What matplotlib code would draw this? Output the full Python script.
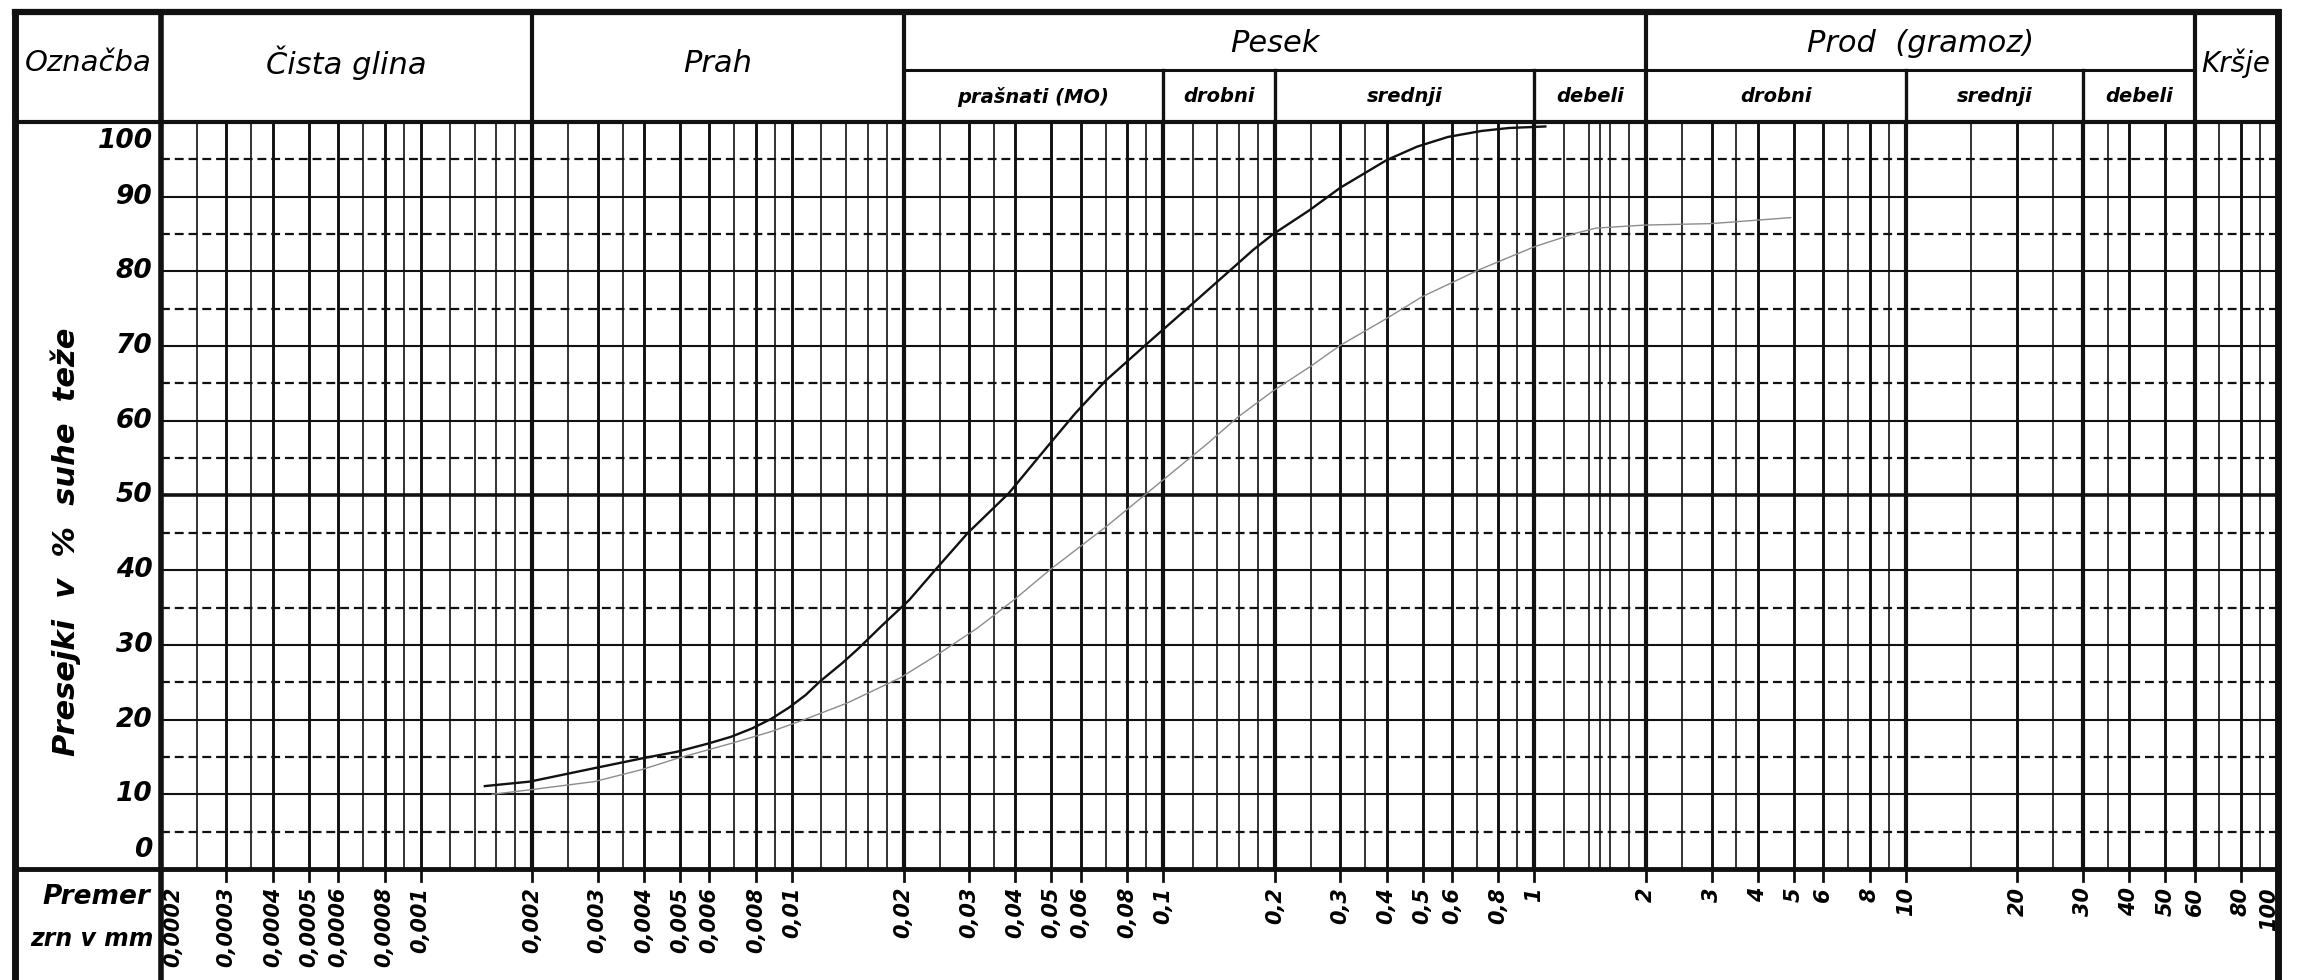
import matplotlib
matplotlib.use("Agg")
import matplotlib.pyplot as plt
import matplotlib.transforms as mtransforms
from matplotlib.lines import Line2D
from matplotlib.ticker import NullLocator

# grain size in mm vs. passing in % of dry weight
dark_size = [0.00149, 0.00197, 0.00294, 0.00394, 0.00491, 0.00596, 0.00686, 0.0078, 0.0088,
             0.00982, 0.0109, 0.0119, 0.0137, 0.0151, 0.0175, 0.0207, 0.0243, 0.0298, 0.0384,
             0.0487, 0.058, 0.0701, 0.0904, 0.1164, 0.152, 0.175, 0.198, 0.248, 0.30, 0.40,
             0.483, 0.585, 0.72, 0.855, 1.07]
dark_pass = [11.1, 11.7, 13.5, 14.8, 15.7, 16.8, 17.7, 18.8, 20.1,
             21.6, 23.3, 25.1, 27.6, 29.5, 32.6, 36.0, 40.0, 45.0, 50.3,
             56.5, 61.0, 65.4, 70.3, 75.1, 80.2, 82.9, 85.0, 88.2, 91.2, 94.9,
             96.7, 98.0, 98.8, 99.2, 99.4]

light_size = [0.00156, 0.00197, 0.00294, 0.00394, 0.00491, 0.00685, 0.0088, 0.01067, 0.01407,
              0.0196, 0.0245, 0.0315, 0.0396, 0.0494, 0.0701, 0.0962, 0.132, 0.159, 0.199,
              0.248, 0.30, 0.40, 0.498, 0.708, 1.0, 1.29, 1.466, 1.98, 3.0, 4.9]
light_pass = [10.0, 10.6, 11.7, 13.3, 14.8, 16.8, 18.4, 19.9, 22.2,
              25.6, 28.6, 32.2, 36.0, 40.0, 45.8, 51.4, 57.0, 60.5, 64.1,
              67.2, 70.1, 73.7, 76.6, 80.2, 83.3, 85.1, 85.8, 86.2, 86.4, 87.2]

# labelled sieve sizes along the bottom
size_ticks = [0.0002, 0.0003, 0.0004, 0.0005, 0.0006, 0.0008, 0.001,
              0.002, 0.003, 0.004, 0.005, 0.006, 0.008, 0.01,
              0.02, 0.03, 0.04, 0.05, 0.06, 0.08, 0.1,
              0.2, 0.3, 0.4, 0.5, 0.6, 0.8, 1,
              2, 3, 4, 5, 6, 8, 10,
              20, 30, 40, 50, 60, 80, 100]
size_labels = ["0,0002", "0,0003", "0,0004", "0,0005", "0,0006", "0,0008", "0,001",
               "0,002", "0,003", "0,004", "0,005", "0,006", "0,008", "0,01",
               "0,02", "0,03", "0,04", "0,05", "0,06", "0,08", "0,1",
               "0,2", "0,3", "0,4", "0,5", "0,6", "0,8", "1",
               "2", "3", "4", "5", "6", "8", "10",
               "20", "30", "40", "50", "60", "80", "100"]

pass_ticks = [0, 10, 20, 30, 40, 50, 60, 70, 80, 90, 100]

# soil classes and their size limits (mm)
main_names = ["Čista glina", "Prah", "Pesek", "Prod  (gramoz)", "Kršje"]
main_edges = [0.0002, 0.002, 0.02, 2, 60, 100]
sub_names = ["prašnati (MO)", "drobni", "srednji", "debeli", "drobni", "srednji", "debeli"]
sub_edges = [0.02, 0.1, 0.2, 1, 2, 10, 30, 60]

# thin grid lines of the printed form
fine_steps = [2, 2.5, 3, 3.5, 4, 5, 6, 7, 8, 9, 10, 12, 14, 16, 18]
grid_x = []
for dec in [0.0001, 0.001, 0.01, 0.1]:
    grid_x += [s * dec for s in fine_steps]
grid_x += [1.5, 2, 2.5, 3, 3.5, 4, 5, 6, 7, 8, 9, 10, 15, 20, 25, 30, 35, 40, 50, 60, 70, 80, 90]

W, H = 2298, 980
ink = "#111111"
FONT = "DejaVu Sans"


def fx(px): return px / W
def fy(py): return 1 - py / H


x_left, x_right = 161, 2277
y_top, y_bot = 122, 869
frame_l, frame_r, frame_t, sub_row = 15, 2278, 12, 70

fig = plt.figure(figsize=(W / 100, H / 100), dpi=100)
fig.patch.set_facecolor("white")
ax = fig.add_axes([fx(x_left), fy(y_bot), fx(x_right - x_left), (y_bot - y_top) / H])
ax.set_xscale("log")
ax.xaxis.set_major_locator(NullLocator())
ax.xaxis.set_minor_locator(NullLocator())
ax.yaxis.set_major_locator(NullLocator())
for s in ax.spines.values(): s.set_visible(False)

boundaries = set(main_edges[1:-1] + sub_edges)
for v in grid_x:
    if any(abs(v / b - 1) < 1e-6 for b in boundaries): lw = 3.0
    elif any(abs(v / t - 1) < 1e-6 for t in size_ticks): lw = 2.1
    else: lw = 1.2
    ax.axvline(v, color=ink, lw=lw, zorder=1)

for p in range(5, 100, 10):
    ax.axhline(p, color=ink, lw=1.6, ls=(0, (4, 2.2)), zorder=1)
for p in range(10, 100, 10):
    ax.axhline(p, color=ink, lw=2.6 if p == 50 else 1.5, zorder=1)

ax.plot(light_size, light_pass, color="#8c8c8c", lw=1.0, zorder=3)
ax.plot(dark_size, dark_pass, color=ink, lw=1.7, zorder=4)

ax.set_xlim(0.0002, 100)
ax.set_ylim(0, 100)

tr = mtransforms.blended_transform_factory(ax.transData, fig.transFigure)


def fline(xs, ys, lw, transform=fig.transFigure):
    fig.add_artist(Line2D(xs, ys, color=ink, lw=lw, transform=transform, solid_capstyle="projecting"))


# outer frame and header rows
fline([fx(frame_l), fx(frame_r)], [fy(frame_t)] * 2, 4.5)
fline([fx(frame_l)] * 2, [fy(frame_t), 0], 5)
fline([fx(frame_r)] * 2, [fy(frame_t), 0], 5)
fline([fx(frame_l), fx(frame_r)], [fy(y_top)] * 2, 3)
fline([fx(frame_l), fx(frame_r)], [fy(y_bot)] * 2, 3.5)
fline([0.0002, 0.0002], [fy(frame_t), 0], 4, tr)
fline([sub_edges[0], sub_edges[-1]], [fy(sub_row)] * 2, 2.2, tr)
for e in main_edges[1:-1]:
    fline([e, e], [fy(frame_t), fy(y_top)], 3, tr)
for e in sub_edges[1:-1]:
    if e not in main_edges: fline([e, e], [fy(sub_row), fy(y_top)], 2.4, tr)

# header texts
fig.text(fx(88), fy(63), "Označba", ha="center", va="center", fontsize=21,
         family=FONT, style="oblique")
for name, lo, hi in zip(main_names, main_edges[:-1], main_edges[1:]):
    xc = (lo * hi) ** 0.5
    two_rows = name in ("Pesek", "Prod  (gramoz)")
    fig.text(xc, fy(44) if two_rows else fy(63), name, transform=tr, ha="center", va="center",
             fontsize=20 if name == "Kršje" else 22, family=FONT, style="oblique")
for name, lo, hi in zip(sub_names, sub_edges[:-1], sub_edges[1:]):
    fig.text((lo * hi) ** 0.5, fy(97), name, transform=tr, ha="center", va="center",
             fontsize=14, family=FONT, style="oblique", weight="bold")

# percent scale
for p in pass_ticks:
    va = "top" if p == 100 else ("bottom" if p == 0 else "center")
    yoff = -4 if p == 100 else (4 if p == 0 else 0)
    ax.annotate(str(p), xy=(0, p), xycoords=("axes fraction", "data"), xytext=(-6, yoff),
                textcoords="offset points", ha="right", va=va, fontsize=19,
                family=FONT, style="oblique", weight="bold")
fig.text(fx(66), fy(542), "Presejki  v  %  suhe  teže", rotation=90, ha="center", va="center",
         fontsize=22, family=FONT, style="oblique", weight="bold")

# size scale
for v, lab in zip(size_ticks, size_labels):
    fline([v, v], [fy(y_bot), fy(y_bot + 12)], 2, tr)
    dx = 9 if v == size_ticks[0] else (-6 if v == size_ticks[-1] else 0)
    ax.annotate(lab, xy=(v, 0), xycoords=("data", "axes fraction"), xytext=(dx, -13),
                textcoords="offset points", rotation=90, ha="center", va="top",
                fontsize=15, family=FONT, style="oblique", weight="bold")
fig.text(fx(150), fy(897), "Premer", ha="right", va="center", fontsize=19,
         family=FONT, style="oblique", weight="bold")
fig.text(fx(154), fy(939), "zrn v mm", ha="right", va="center", fontsize=17,
         family=FONT, style="oblique", weight="bold")

fig.savefig("out.png", dpi=100, facecolor="white")
